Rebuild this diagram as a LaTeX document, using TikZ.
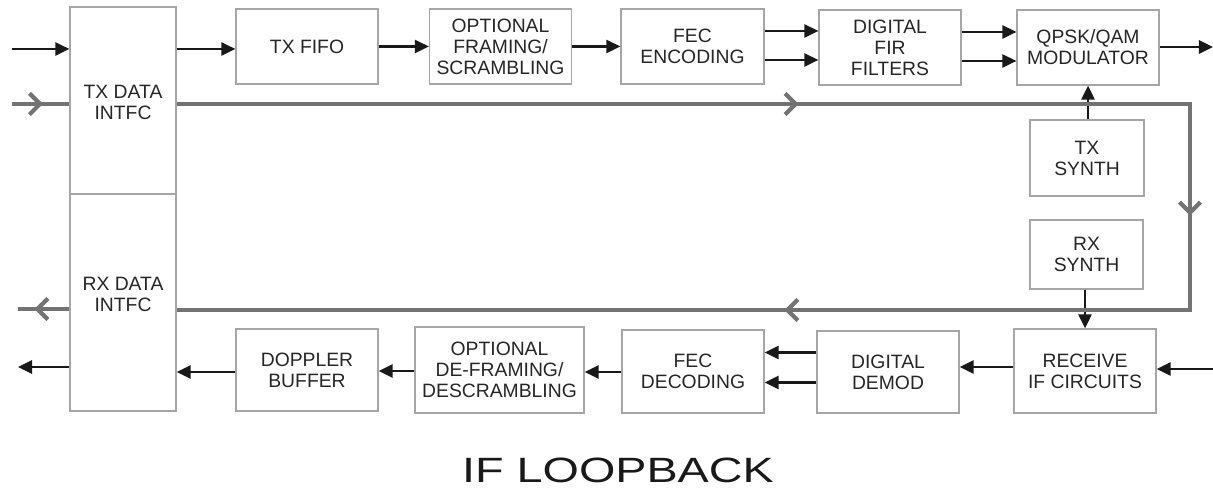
\documentclass[tikz,border=0pt]{standalone}
\usepackage{fontspec}
\setmainfont{Liberation Sans}
\newfontfamily\titlefont[FakeStretch=1.33]{Liberation Sans}
\usepackage{tikz}
\usetikzlibrary{positioning,arrows.meta,calc,decorations.markings}

\begin{document}
\begin{tikzpicture}[
      >={Triangle[length=8pt,width=7.5pt]},
      block/.style={draw=black!35, line width=0.7pt, minimum width=2.84cm, minimum height=1.5cm,
                    inner sep=0pt, align=center, text=black!85, font=\fontsize{11}{12}\selectfont},
      boxtext/.style={align=center, text=black!85, font=\fontsize{11}{12}\selectfont},
      sig/.style={->, line width=1.35pt, black!90},
      loopline/.style={draw, color=black!55, line width=2.6pt},
      chevron/.style={postaction={decorate, decoration={markings,
                      mark=at position #1 with {\arrow[line width=2.4pt]{Straight Barb[length=6pt,width=12pt]}}}}},
      heading/.style={font=\titlefont\fontsize{20}{24}\selectfont, text=black!90},
    ]
    \useasboundingbox (0,0) rectangle (24.26,-9.94);

    % Data interfaces
    \node[block, minimum width=2.12cm, minimum height=3.74cm] (txd) at (2.46,-2.01) {};
    \node[boxtext] (txdtxt) at (2.46,-2.04) {TX DATA\\INTFC};
    \node[block, minimum width=2.12cm, minimum height=4.34cm] (rxd) at (2.46,-6.05) {};
    \node[boxtext] (rxdtxt) at (2.46,-5.88) {RX DATA\\INTFC};

    % Transmit chain
    \node[block] (fifo) at (6.14,-0.93) {TX FIFO};
    \node[block] (frm)  at (10.01,-0.93) {OPTIONAL\\FRAMING/\\SCRAMBLING};
    \node[block, minimum width=2.86cm] (fec) at (13.85,-0.93) {FEC\\ENCODING};
    \node[block] (fir)  at (17.80,-0.95) {DIGITAL\\FIR\\FILTERS};
    \node[block] (mod)  at (21.76,-0.95) {QPSK/QAM\\MODULATOR};

    % Synthesizers
    \node[block, minimum width=2.28cm, minimum height=1.52cm] (txs) at (21.74,-3.16) {TX\\SYNTH};
    \node[block, minimum width=2.26cm, minimum height=1.38cm] (rxs) at (21.73,-5.09) {RX\\SYNTH};

    % Receive chain
    \node[block, minimum width=2.84cm, minimum height=1.68cm] (rcv)  at (21.70,-7.42) {RECEIVE\\IF CIRCUITS};
    \node[block, minimum width=2.84cm, minimum height=1.64cm] (dem)  at (17.76,-7.44) {DIGITAL\\DEMOD};
    \node[block, minimum width=2.84cm, minimum height=1.66cm] (fecd) at (13.86,-7.43) {FEC\\DECODING};
    \node[block, minimum width=3.38cm, minimum height=1.72cm] (dfr)  at (9.99,-7.40) {OPTIONAL\\DE-FRAMING/\\DESCRAMBLING};
    \node[block, minimum width=2.84cm, minimum height=1.64cm] (dop)  at (6.14,-7.40) {DOPPLER\\BUFFER};

    % Free ends
    \coordinate (txin)  at (0.24,-0.98);
    \coordinate (txout) at (24.26,-0.94);
    \coordinate (rxin)  at (24.26,-7.38);
    \coordinate (rxout) at (0.36,-7.34);
    \coordinate (lpin)  at (0.24,-2.08);
    \coordinate (lpout) at (0.36,-6.18);
    \coordinate (lptop) at (23.80,-2.08);
    \coordinate (lpbot) at (23.80,-6.20);

    % Transmit connections
    \draw[sig] (txin) -- (txin -| txd.west);
    \draw[sig] (txd.east |- txin) -- (txin -| fifo.west);
    \draw[sig] (fifo) -- (frm);
    \draw[sig] (frm) -- (fec);
    \foreach \dy in {0.31,-0.27} {
      \draw[sig] ([yshift=\dy cm]fec.east) -- ([yshift=\dy cm]fec.east -| fir.west);
      \draw[sig] ([yshift=\dy cm]fir.east) -- ([yshift=\dy cm]fir.east -| mod.west);
    }
    \draw[sig] (mod.east |- txout) -- (txout);
    \draw[sig] (txs.north -| 21.76,0) -- (mod.south -| 21.76,0);

    % Receive connections
    \draw[sig] (rxin) -- (rxin -| rcv.east);
    \draw[sig] (rcv.west |- 0,-7.34) -- (dem.east |- 0,-7.34);
    \foreach \dy in {0.39,-0.21} {
      \draw[sig] ([yshift=\dy cm]dem.west) -- ([yshift=\dy cm]dem.west -| fecd.east);
    }
    \draw[sig] (fecd.west |- 0,-7.44) -- (dfr.east |- 0,-7.44);
    \draw[sig] (dfr.west |- 0,-7.42) -- (dop.east |- 0,-7.42);
    \draw[sig] (dop.west |- 0,-7.44) -- (rxd.east |- 0,-7.44);
    \draw[sig] (rxd.west |- rxout) -- (rxout);
    \draw[sig] (rxs.south -| 21.70,0) -- (rcv.north -| 21.70,0);

    % IF loopback path
    \draw[loopline, chevron=0.62cm] (lpin) -- (lpin -| txd.west);
    \draw[loopline, line join=miter, chevron=12.44cm, chevron=22.5cm, chevron=32.5cm]
      (txd.east |- lptop) -- (lptop) -- (lpbot) -- (rxd.east |- lpbot);
    \draw[loopline, chevron=0.7cm] (rxd.west |- lpout) -- (lpout);

    % Title
    \node[heading, anchor=base] (title) at (12.36,-9.64) {IF LOOPBACK};
  \end{tikzpicture}
\end{document}
